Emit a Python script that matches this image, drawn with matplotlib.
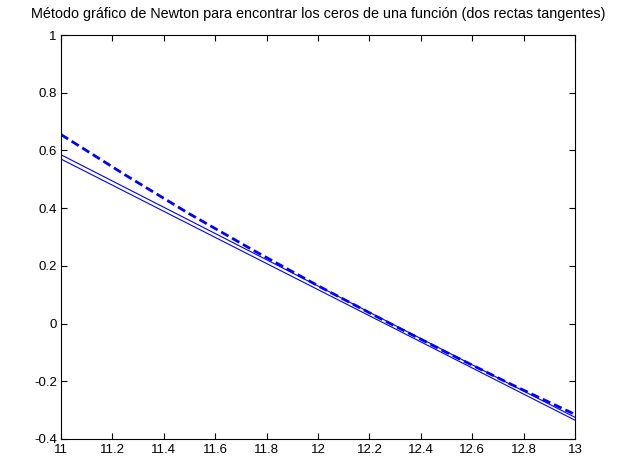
import matplotlib.pyplot as plt
from matplotlib.ticker import FuncFormatter

# curve (dashed)
x_curve = [11.0, 11.25, 11.5, 11.75, 12.0, 12.25, 12.5, 12.75, 13.0]
y_curve = [0.655, 0.515, 0.380, 0.253, 0.131, 0.014, -0.100, -0.210, -0.315]

# two tangent lines, end points
x_tan = [11.0, 13.0]
y_tan1 = [0.585, -0.325]
y_tan2 = [0.570, -0.335]

x_ticks = [11, 11.2, 11.4, 11.6, 11.8, 12, 12.2, 12.4, 12.6, 12.8, 13]
y_ticks = [-0.4, -0.2, 0, 0.2, 0.4, 0.6, 0.8, 1]

plt.rcParams['font.family'] = ['Liberation Sans', 'DejaVu Sans']

fig = plt.figure(figsize=(6.19, 4.59), dpi=100)
ax = fig.add_axes([0.0986, 0.0436, 0.8304, 0.8801])

ax.plot(x_curve, y_curve, color='#0000ff', lw=2.0, ls=(0, (3, 1.5)))
ax.plot(x_tan, y_tan1, color='#0000ff', lw=0.8)
ax.plot(x_tan, y_tan2, color='#0000ff', lw=0.8)

ax.set_xlim(11, 13)
ax.set_ylim(-0.4, 1)
ax.set_xticks(x_ticks)
ax.set_yticks(y_ticks)
fmt = FuncFormatter(lambda v, p: ('%g' % round(v, 4)))
ax.xaxis.set_major_formatter(fmt)
ax.yaxis.set_major_formatter(fmt)
ax.tick_params(direction='in', top=True, right=True, length=4.5, width=0.8,
               labelsize=9.5)
ax.tick_params(axis='x', pad=3.5)
ax.tick_params(axis='y', pad=3)
for s in ax.spines.values():
    s.set_linewidth(0.8)

ax.set_title('Método gráfico de Newton para encontrar los ceros de una función (dos rectas tangentes)',
             fontsize=10.4, pad=12)

fig.savefig('out.png', dpi=100)
